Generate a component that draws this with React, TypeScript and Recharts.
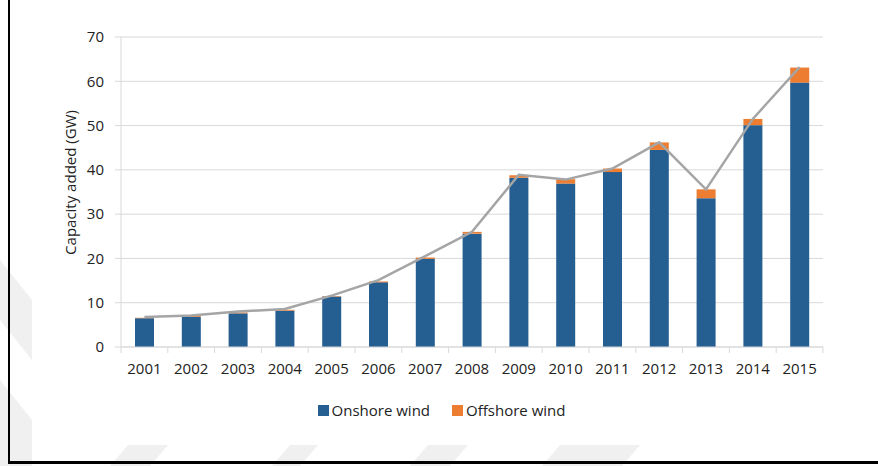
import {
  ComposedChart,
  Bar,
  Line,
  XAxis,
  YAxis,
  CartesianGrid,
  Legend,
  Label,
} from "recharts";

// Global wind capacity added per year (GW)
const years = ["2001", "2002", "2003", "2004", "2005", "2006", "2007", "2008", "2009", "2010", "2011", "2012", "2013", "2014", "2015"];
const onshore = [6.5, 6.8, 7.6, 8.2, 11.4, 14.6, 19.9, 25.6, 38.2, 36.9, 39.5, 44.5, 33.6, 50.1, 59.7];
const offshore = [0.1, 0.2, 0.2, 0.2, 0.1, 0.2, 0.3, 0.4, 0.6, 1.0, 0.8, 1.7, 2.0, 1.4, 3.4];
const totalAdded = [6.8, 7.1, 8.0, 8.6, 11.6, 15.1, 20.5, 26.0, 38.9, 37.8, 40.3, 46.2, 35.6, 51.5, 63.2];
const yTicks = [0, 10, 20, 30, 40, 50, 60, 70];

const data = years.map((year, i) => ({
  year,
  onshore: onshore[i],
  offshore: offshore[i],
  total: totalAdded[i],
}));

const W = 878;
const H = 466;
const PLOT_LEFT = 121;
const PLOT_RIGHT = 823;
const BAND = (PLOT_RIGHT - PLOT_LEFT) / years.length;

const FONT = "'Open Sans', sans-serif";
const TEXT = "#222222";
const AXIS = "#d9d9d9";
const ONSHORE = "#255e91";
const OFFSHORE = "#ed7d31";

// year labels, with tick marks between categories like the office default
const YearTick = (props: any) => {
  const { x, y, payload, index } = props;
  const half = BAND / 2;
  return (
    <g>
      <line x1={x - half} x2={x - half} y1={y} y2={y + 6} stroke={AXIS} />
      {index === years.length - 1 && <line x1={x + half} x2={x + half} y1={y} y2={y + 6} stroke={AXIS} />}
      <text x={x} y={y + 27} textAnchor="middle" fill={TEXT} fontSize={15} fontFamily={FONT}>
        {payload.value}
      </text>
    </g>
  );
};

const LegendBox = () => (
  <div
    style={{
      display: "flex",
      justifyContent: "center",
      alignItems: "center",
      height: 20,
      fontFamily: FONT,
      fontSize: 15,
      color: TEXT,
      paddingLeft: 5,
    }}
  >
    {[
      { name: "Onshore wind", color: ONSHORE },
      { name: "Offshore wind", color: OFFSHORE },
    ].map((item, i) => (
      <span key={item.name} style={{ display: "flex", alignItems: "center", marginLeft: i ? 22 : 0 }}>
        <span style={{ width: 11, height: 11, background: item.color, marginRight: 3, display: "inline-block" }} />
        {item.name}
      </span>
    ))}
  </div>
);

// faint page watermark around the chart image
const Watermark = () => (
  <svg width={W} height={H} style={{ position: "absolute", left: 0, top: 0 }}>
    <g fill="#f0f0f0">
      <polygon points="0,260 32,300 32,360 0,320" />
      <polygon points="0,380 32,420 32,466 0,466 0,440" />
      <polygon points="128,445 168,445 150,466 110,466" />
      <polygon points="290,445 318,445 300,466 272,466" />
      <polygon points="428,445 468,445 450,466 410,466" />
      <polygon points="560,445 640,445 622,466 542,466" />
    </g>
    <rect x={32} y={0} width={W - 32} height={445} fill="#fff" />
  </svg>
);

export default function App() {
  return (
    <div style={{ position: "absolute", left: 0, top: 0, width: W, height: H, background: "#fff", overflow: "hidden" }}>
      <Watermark />
      <div style={{ position: "absolute", left: 0, top: 0 }}>
        <ComposedChart
          width={W}
          height={H}
          data={data}
          margin={{ top: 37, right: W - PLOT_RIGHT, bottom: 69, left: 0 }}
        >
          <CartesianGrid horizontal vertical={false} stroke={AXIS} strokeWidth={1} />
          <XAxis
            dataKey="year"
            height={30}
            axisLine={{ stroke: AXIS }}
            tickLine={false}
            tickSize={0}
            tickMargin={0}
            tick={<YearTick />}
            interval={0}
          />
          <YAxis
            width={PLOT_LEFT}
            domain={[0, 70]}
            ticks={yTicks}
            axisLine={{ stroke: AXIS }}
            tickLine={{ stroke: AXIS }}
            tickSize={6}
            tickMargin={11}
            tick={{ fill: TEXT, fontSize: 15, fontFamily: FONT }}
          >
            <Label
              content={(p: any) => {
                const vb = p.viewBox || { y: 37, height: 310 };
                const cy = vb.y + vb.height / 2 - 9.5;
                return (
                  <text
                    x={70}
                    y={cy}
                    transform={`rotate(-90 70 ${cy})`}
                    textAnchor="middle"
                    dominantBaseline="central"
                    fill={TEXT}
                    fontSize={15}
                    fontFamily={FONT}
                  >
                    Capacity added (GW)
                  </text>
                );
              }}
            />
          </YAxis>
          <Legend
            verticalAlign="bottom"
            content={<LegendBox />}
            wrapperStyle={{ bottom: 46, left: 0, width: W }}
          />
          <Bar dataKey="onshore" name="Onshore wind" stackId="wind" fill={ONSHORE} barSize={19} isAnimationActive={false} />
          <Bar dataKey="offshore" name="Offshore wind" stackId="wind" fill={OFFSHORE} barSize={19} isAnimationActive={false} />
          <Line
            dataKey="total"
            type="linear"
            stroke="#a5a5a5"
            strokeWidth={2.5}
            dot={false}
            activeDot={false}
            legendType="none"
            isAnimationActive={false}
          />
        </ComposedChart>
      </div>
      {/* page frame */}
      <div style={{ position: "absolute", left: 8, top: 0, width: 2, height: 464, background: "#000" }} />
      <div style={{ position: "absolute", left: 8, top: 461, width: W - 8, height: 3, background: "#000" }} />
    </div>
  );
}
